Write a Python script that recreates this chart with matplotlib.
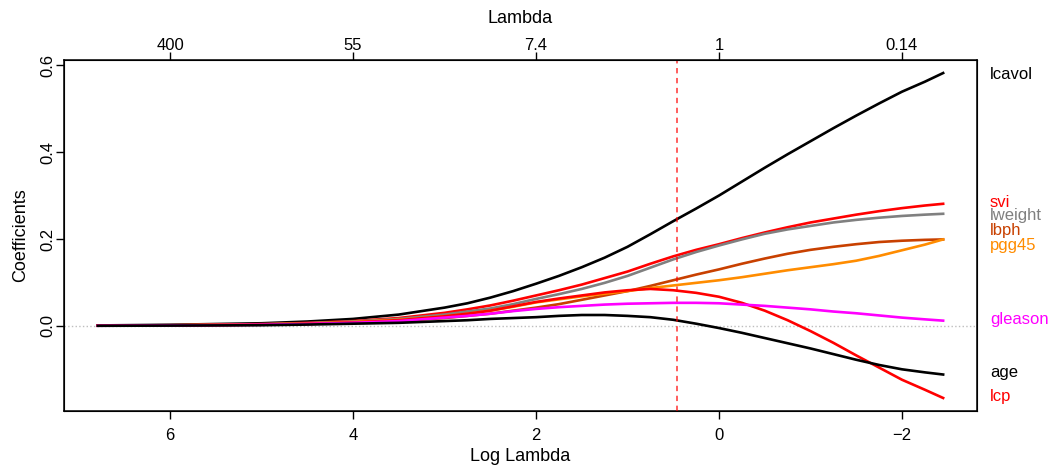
import numpy as np
import matplotlib
matplotlib.use("Agg")
import matplotlib.pyplot as plt

# ridge path: coefficients against log(lambda)
log_lambda = [6.79, 6.0, 5.0, 4.5, 4.0, 3.5, 3.0, 2.75, 2.5, 2.25, 2.0, 1.75, 1.5, 1.25,
              1.0, 0.75, 0.5, 0.25, 0.0, -0.25, -0.5, -0.75, -1.0, -1.25, -1.5, -1.75,
              -2.0, -2.25, -2.45]

lcavol  = [0.001, 0.0025, 0.006, 0.010, 0.016, 0.026, 0.042, 0.052, 0.065, 0.080, 0.097,
           0.115, 0.135, 0.157, 0.182, 0.211, 0.241, 0.270, 0.300, 0.332, 0.364, 0.395,
           0.425, 0.455, 0.484, 0.512, 0.539, 0.562, 0.582]
svi     = [0.0006, 0.0015, 0.004, 0.0068, 0.011, 0.018, 0.030, 0.038, 0.047, 0.058, 0.070,
           0.082, 0.095, 0.110, 0.125, 0.143, 0.160, 0.175, 0.188, 0.202, 0.215, 0.227,
           0.238, 0.247, 0.256, 0.264, 0.271, 0.277, 0.281]
lweight = [0.0006, 0.0014, 0.0038, 0.0062, 0.010, 0.016, 0.026, 0.033, 0.040, 0.050, 0.062,
           0.073, 0.085, 0.099, 0.115, 0.134, 0.153, 0.170, 0.185, 0.199, 0.212, 0.222,
           0.230, 0.238, 0.244, 0.249, 0.253, 0.256, 0.258]
lbph    = [0.0004, 0.001, 0.0027, 0.0045, 0.007, 0.011, 0.018, 0.023, 0.028, 0.035, 0.042,
           0.050, 0.060, 0.070, 0.080, 0.092, 0.105, 0.118, 0.130, 0.143, 0.155, 0.166,
           0.175, 0.182, 0.188, 0.193, 0.196, 0.198, 0.199]
pgg45   = [0.0005, 0.0012, 0.0032, 0.0055, 0.009, 0.014, 0.022, 0.028, 0.035, 0.044, 0.054,
           0.061, 0.068, 0.074, 0.080, 0.087, 0.093, 0.099, 0.105, 0.112, 0.120, 0.128,
           0.135, 0.142, 0.150, 0.161, 0.174, 0.187, 0.199]
lcp     = [0.0004, 0.001, 0.003, 0.005, 0.008, 0.013, 0.022, 0.028, 0.035, 0.045, 0.055,
           0.063, 0.070, 0.077, 0.082, 0.085, 0.082, 0.076, 0.067, 0.053, 0.035, 0.013,
           -0.012, -0.039, -0.068, -0.096, -0.124, -0.147, -0.166]
gleason = [0.0003, 0.0008, 0.0025, 0.0043, 0.007, 0.011, 0.019, 0.023, 0.028, 0.034, 0.039,
           0.043, 0.046, 0.049, 0.051, 0.052, 0.053, 0.053, 0.052, 0.049, 0.046, 0.042,
           0.038, 0.033, 0.029, 0.024, 0.019, 0.015, 0.012]
age     = [0.0002, 0.0006, 0.0015, 0.003, 0.005, 0.007, 0.011, 0.013, 0.016, 0.018, 0.020,
           0.023, 0.025, 0.025, 0.023, 0.020, 0.014, 0.005, -0.005, -0.016, -0.028, -0.040,
           -0.052, -0.065, -0.078, -0.090, -0.100, -0.107, -0.112]

names   = ["lcavol", "svi", "lweight", "lbph", "pgg45", "lcp", "gleason", "age"]
series  = [lcavol, svi, lweight, lbph, pgg45, lcp, gleason, age]
colors  = ["black", "red", "#808080", "#C84000", "#FF8C00", "red", "#FF00FF", "black"]
# where the variable names sit on the right margin
label_y = {"lcavol": 0.579, "svi": 0.283, "lweight": 0.253, "lbph": 0.219,
           "pgg45": 0.184, "gleason": 0.014, "age": -0.108, "lcp": -0.163}

best_log_lambda = 0.457
x_ticks = [6, 4, 2, 0, -2]
top_labels = ["400", "55", "7.4", "1", "0.14"]
y_ticks = [0.0, 0.2, 0.4, 0.6]

plt.rcParams["font.family"] = ["Liberation Sans", "DejaVu Sans"]
plt.rcParams["font.size"] = 12

fig = plt.figure(figsize=(10.52, 4.72), dpi=100)
ax = fig.add_axes([0.0608, 0.1292, 0.8679, 0.7437])

ax.axhline(0, color="#BEBEBE", linestyle=":", linewidth=1, zorder=1)
for ys, c in zip(series, colors):
  ax.plot(log_lambda, ys, color=c, linewidth=1.9, zorder=2, solid_joinstyle="round")
ax.axvline(best_log_lambda, color="red", linestyle=(0, (3.5, 3)), linewidth=1.1, alpha=0.8, zorder=3)

ax.set_xlim(7.16, -2.82)
ax.set_ylim(-0.196, 0.612)

ax.set_xticks(x_ticks)
ax.set_xticklabels([str(t).replace("-", "\u2212") for t in x_ticks])
ax.set_yticks(y_ticks)
ax.set_yticklabels(["%.1f" % t for t in y_ticks], rotation=90, va="center")
ax.tick_params(axis="x", direction="out", length=6, width=1, pad=6, labelsize=12)
ax.tick_params(axis="y", direction="out", length=6, width=1, pad=0.5, labelsize=12)
ax.set_xlabel("Log Lambda", fontsize=13, labelpad=4)
ax.set_ylabel("Coefficients", fontsize=13, labelpad=7.5)
for s in ax.spines.values():
  s.set_linewidth(1.1)

top = ax.twiny()
top.set_xlim(ax.get_xlim())
top.set_xticks(x_ticks)
top.set_xticklabels(top_labels)
top.tick_params(direction="out", length=6, width=1, pad=-1, labelsize=12)
top.set_xlabel("Lambda", fontsize=13, labelpad=11)

for n, c in zip(names, colors):
  ax.text(1.014, label_y[n], n, color=c, fontsize=12, va="center", ha="left",
          transform=ax.get_yaxis_transform(), clip_on=False)

fig.savefig("out.png", dpi=100)
